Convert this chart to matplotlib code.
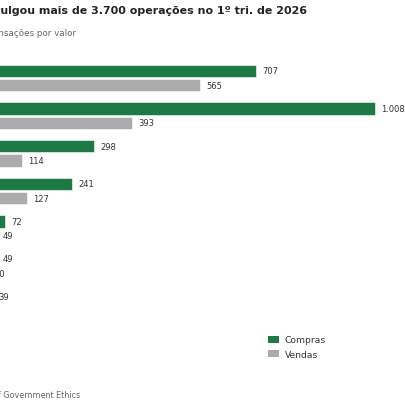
import matplotlib
matplotlib.use("Agg")
import matplotlib.pyplot as plt
import numpy as np
from matplotlib.patches import Patch

categories = ["Cat 1", "Cat 2", "Cat 3", "Cat 4", "Cat 5", "Cat 6", "Cat 7"]
compras = [707, 1008, 298, 241, 72, 49, 39]
vendas = [565, 393, 114, 127, 49, 30, 20]

title = "Trump divulgou mais de 3.700 operações no 1º tri. de 2026"
subtitle = "Número de transações por valor"
source = "Fonte: Office of Government Ethics"

GREEN = "#1e7a44"
GRAY = "#ababab"
TXT = "#333333"

W = H = 406
fig = plt.figure(figsize=(W / 100, H / 100), dpi=100)

def fx(px):
    return px / W

def fy(py):
    return 1 - py / H

# axes geometry (pixels)
x0_px = -23.5
ppu = 0.3953
xmax = 1060
ytop, ybot = -0.6, 6.6
row_px = 37.6
top_px = 79.1 + ytop * row_px
height_px = (ybot - ytop) * row_px
ax = fig.add_axes([fx(x0_px), fy(top_px + height_px), fx(xmax * ppu), height_px / H])
ax.set_xlim(0, xmax)
ax.set_ylim(ybot, ytop)
ax.axis("off")

y = np.arange(len(categories))
bh = 0.33
off = 0.19
ax.barh(y - off, compras, height=bh, color=GREEN, edgecolor="white", linewidth=0.4)
ax.barh(y + off, vendas, height=bh, color=GRAY, edgecolor="white", linewidth=0.4)

def fmt(v):
    return f"{v:,}".replace(",", ".")

lab_off = 6.3 / ppu
for i in range(len(categories)):
    ax.text(compras[i] + lab_off, y[i] - off, fmt(compras[i]), va="center", ha="left",
            fontsize=6, color=TXT, clip_on=False)
    ax.text(vendas[i] + lab_off, y[i] + off, fmt(vendas[i]), va="center", ha="left",
            fontsize=6, color=TXT, clip_on=False)

fig.text(fx(307), fy(11), title, ha="right", va="center", fontsize=7.9,
         fontweight="bold", color="#222222")
fig.text(fx(76), fy(34), subtitle, ha="right", va="center", fontsize=6.3, color="#666666")
fig.text(fx(80), fy(396), source, ha="right", va="center", fontsize=5.8, color="#666666")

handles = [Patch(facecolor=GREEN, label="Compras"), Patch(facecolor=GRAY, label="Vendas")]
fig.legend(handles=handles, loc="upper left", bbox_to_anchor=(fx(268), fy(336.5)),
           frameon=False, fontsize=6.6, handlelength=1.2, handleheight=0.75,
           handletextpad=0.6, labelspacing=0.6, borderpad=0, borderaxespad=0,
           labelcolor=TXT)

fig.savefig("out.png", dpi=100)
